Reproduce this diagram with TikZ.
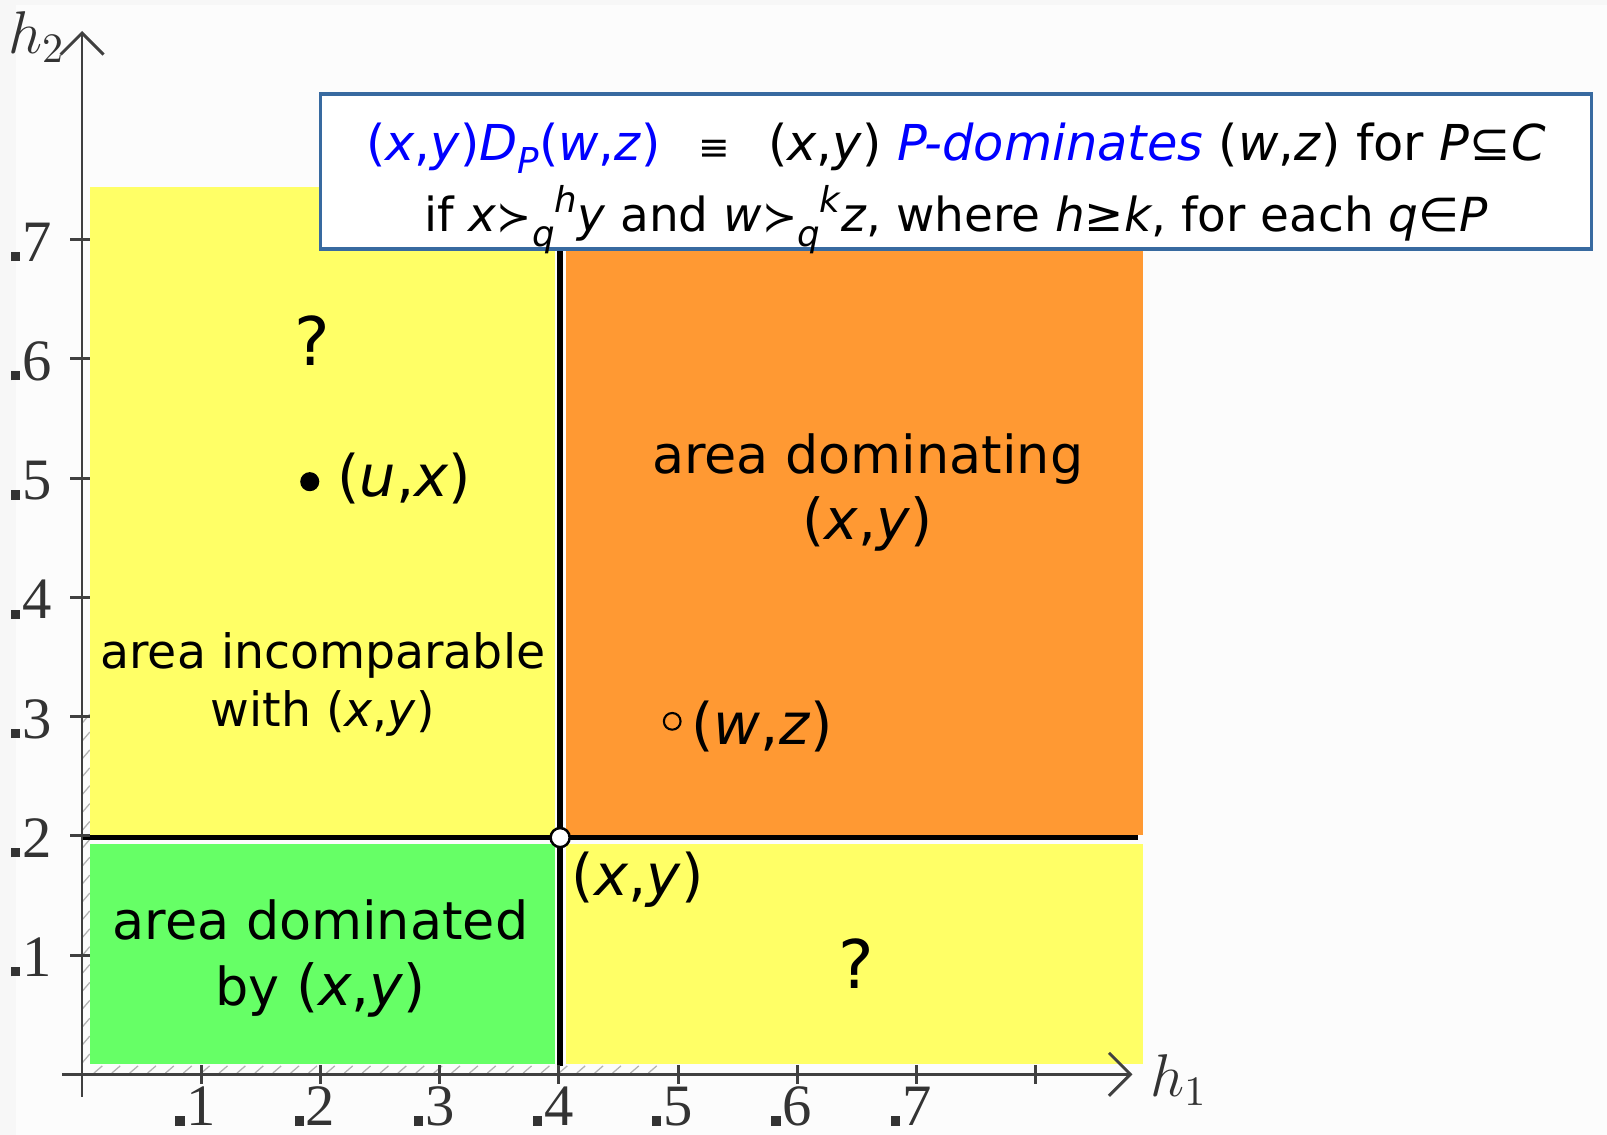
\documentclass[tikz,border=0pt]{standalone}
\usepackage{fontspec}
\setmainfont{DejaVu Sans}
\newfontfamily\tickfont{Liberation Serif}
\usetikzlibrary{arrows.meta}
\definecolor{areaYellow}{RGB}{255,255,102}
\definecolor{areaOrange}{RGB}{255,153,51}
\definecolor{areaGreen}{RGB}{102,255,102}
\definecolor{boxBlue}{RGB}{56,106,160}
\definecolor{defBlue}{RGB}{0,0,255}
\newcommand{\pxy}{(\textit{x},\textit{y})}
\newcommand{\succq}[1]{{\fontsize{10}{10}\selectfont≻}\raisebox{-0.6ex}{\fontsize{8.5}{9}\selectfont\textit{q}}\raisebox{0.75ex}{\fontsize{8.5}{9}\selectfont\textit{#1}}}

\begin{document}
\begin{tikzpicture}[font=\fontsize{12.5}{15.8}\selectfont,
  lbl/.style={align=center,inner sep=1pt},
  pt lbl/.style={inner sep=1pt,font=\fontsize{13.7}{16}\selectfont},
  ask/.style={inner sep=1pt,font=\fontsize{16}{18}\selectfont},
  small lbl/.style={align=center,inner sep=1pt,font=\fontsize{11.3}{13.9}\selectfont},
  tick lbl/.style={font=\tickfont\fontsize{14}{16}\selectfont,text=black!80,inner sep=0pt},
  axis/.style={black!75,line width=0.7pt},
  split/.style={black,line width=1.3pt}]
\useasboundingbox (-0.688,-0.507) rectangle (12.79,9.01);
\fill[black!3] (-0.688,-0.507) rectangle (12.79,9.01);
\fill[white!99!black] (-0.55,-0.507) rectangle (12.79,8.97);
% ---- hatching next to the axes ----
\foreach \t in {0.1,0.25,...,2.95}
  \draw[black!30,line width=0.3pt] (0.005,\t) -- (0.065,\t+0.07);
\foreach \t in {0.1,0.25,...,4.8}
  \draw[black!30,line width=0.3pt] (\t,0.01) -- (\t+0.07,0.07);
% ---- areas ----
\fill[areaYellow] (0.07,2.01) rectangle (3.97,7.44);
\fill[areaOrange] (4.06,2.01) rectangle (8.9,7.44);
\fill[areaGreen]  (0.07,0.086) rectangle (3.97,1.93);
\fill[areaYellow] (4.06,0.086) rectangle (8.9,1.93);
\draw[split] (0,1.985) -- (8.86,1.985);
\draw[split] (4.01,0.07) -- (4.01,7.44);
% ---- axes ----
\draw[axis,-{Straight Barb[length=1.8mm,width=3.6mm]}] (-0.17,0) -- (8.81,0);
\draw[axis,-{Straight Barb[length=1.8mm,width=3.6mm]}] (0,-0.19) -- (0,8.75);
\foreach \i in {1,...,8}
  \draw[axis] (\i,-0.08) -- (\i,0.08);
\foreach \i in {1,...,7}
  \node[tick lbl,anchor=base] (xl\i) at (\i,-0.43) {\llap{\rule{2.2pt}{2.2pt}\kern0.5pt}\i};
\foreach \j in {1,...,7} {
  \draw[axis] (-0.1,\j) -- (0.07,\j);
  \node[tick lbl,anchor=base east] (yl\j) at (-0.25,\j-0.18) {\rule{2.2pt}{2.2pt}\kern0.5pt\j};
}
\node[font=\fontsize{14}{15}\selectfont,text=black!80] (h1) at (9.2,-0.05) {$h_1$};
\node[font=\fontsize{14}{15}\selectfont,text=black!80] (h2) at (-0.38,8.7) {$h_2$};
% ---- points ----
\node[circle,draw,fill=white,line width=0.6pt,minimum size=1.6mm,inner sep=0pt] (pxy) at (4.01,1.985) {};
\node[circle,fill=black,minimum size=1.6mm,inner sep=0pt] (pux) at (1.91,4.97) {};
\node[circle,draw,line width=0.5pt,minimum size=1.4mm,inner sep=0pt] (pwz) at (4.95,2.96) {};
% ---- labels ----
\node[ask] (q1) at (1.93,6.15) {?};
\node[pt lbl,anchor=west] (lux) at (2.1,5.0) {(\textit{u},\textit{x})};
\node[small lbl] (incomp) at (2.02,3.27) {area incomparable\\with \pxy};
\node[lbl] (domg) at (6.59,4.88) {area dominating\\{\fontsize{13.5}{15.8}\selectfont\pxy}};
\node[pt lbl,anchor=west] (lwz) at (5.07,2.92) {(\textit{w},\textit{z})};
\node[pt lbl] (lxy) at (4.66,1.63) {\pxy};
\node[lbl] (domd) at (2.0,0.97) {area dominated\\by {\fontsize{13.5}{15.8}\selectfont\pxy}};
\node[ask] (q2) at (6.49,0.93) {?};
% ---- definition ----
\node[draw=boxBlue,line width=0.9pt,fill=white,minimum width=10.66cm,minimum height=1.3cm,
  inner sep=0pt] (defbox) at (7.33,7.57) {};
\node[align=center,inner sep=0pt,font=\fontsize{11.8}{17}\selectfont] (deftxt) at ([yshift=-1.4mm]defbox.center)
  {{\color{defBlue}(\textit{x},\textit{y})\textit{D}\raisebox{-0.5ex}{\fontsize{8.5}{9}\selectfont\textit{P}}(\textit{w},\textit{z})}
   \hspace{0.45em}{\fontsize{9}{10}\selectfont≡}\hspace{0.45em}
   \pxy{} {\color{defBlue}\textit{P-dominates}} (\textit{w},\textit{z}) for \textit{P}⊆\textit{C}\\
   {\fontsize{11.2}{17}\selectfont if \textit{x}\succq{h}\textit{y} and \textit{w}\succq{k}\textit{z}, where \textit{h}≥\textit{k}, for each \textit{q}∈\textit{P}}};
\end{tikzpicture}
\end{document}
